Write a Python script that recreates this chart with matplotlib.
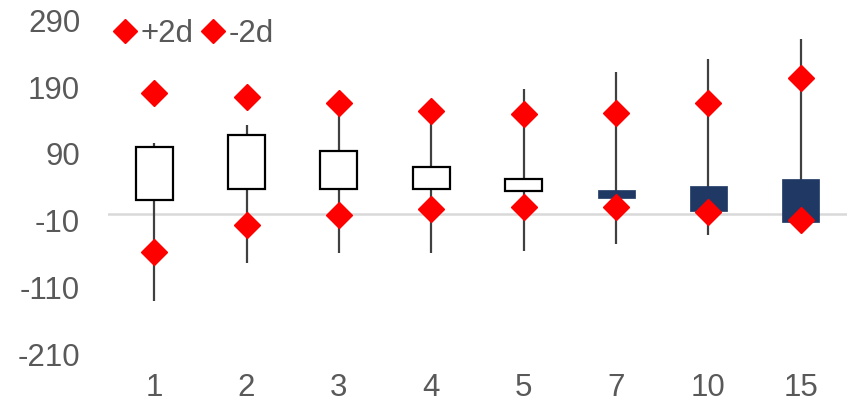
import matplotlib.pyplot as plt
import numpy as np
from matplotlib.lines import Line2D

plt.rcParams["font.family"] = ["Liberation Sans", "DejaVu Sans"]

# Data
categories = ["1", "2", "3", "4", "5", "7", "10", "15"]
open_vals = [21.5, 37, 38, 37, 35, 36.5, 42.6, 53]
high_vals = [106, 134, 166, 155, 188, 213, 232, 262]
low_vals = [-130, -73, -58, -58, -55, -45, -31, -12]
close_vals = [101, 118, 95, 71, 53, 24.5, 5, -11.6]
plus_2d = [181, 176, 166, 155, 150, 151, 167, 203.5]
minus_2d = [-57, -16, -1, 8, 11, 11, 3.5, -8.7]
y_ticks = [290, 190, 90, -10, -110, -210]

text_color = "#595959"
down_color = "#1F3864"
wick_color = "#404040"
fs = 22.5

fig = plt.figure(figsize=(8.53, 4.07), dpi=100)
ax = fig.add_axes([108 / 853, 1 - 354 / 407, 739 / 853, 333.5 / 407])

x = np.arange(len(categories))
box_w = 0.4

# zero line
ax.axhline(0, color="#D9D9D9", lw=1.8, zorder=1)

for i in range(len(categories)):
    ax.vlines(x[i], low_vals[i], high_vals[i], color=wick_color, lw=1.6, zorder=2)
    lo = min(open_vals[i], close_vals[i])
    h = abs(close_vals[i] - open_vals[i])
    if close_vals[i] >= open_vals[i]:
        ax.bar(x[i], h, bottom=lo, width=box_w, facecolor="white",
               edgecolor="black", linewidth=1.6, zorder=3)
    else:
        ax.bar(x[i], h, bottom=lo, width=box_w, facecolor=down_color,
               edgecolor=down_color, linewidth=0.5, zorder=3)

ax.plot(x, plus_2d, ls="none", marker="D", ms=13, color="#FF0000", zorder=4)
ax.plot(x, minus_2d, ls="none", marker="D", ms=13, color="#FF0000", zorder=4)

ax.set_xlim(-0.5, len(categories) - 0.5)
ax.set_ylim(-210, 290)
ax.set_yticks(y_ticks)
ax.set_yticklabels([str(t) for t in y_ticks])
ax.set_xticks(x)
ax.set_xticklabels(categories)
ax.tick_params(axis="y", length=0, pad=20, labelsize=fs, labelcolor=text_color)
ax.tick_params(axis="x", length=0, pad=14, labelsize=fs, labelcolor=text_color)
for s in ax.spines.values():
    s.set_visible(False)

handles = [
    Line2D([], [], ls="none", marker="D", ms=12, color="#FF0000"),
    Line2D([], [], ls="none", marker="D", ms=12, color="#FF0000"),
]
leg = fig.legend(handles, ["+2d", "-2d"], loc="center left",
                 bbox_to_anchor=(113 / 853, 1 - 34 / 407), ncol=2, frameon=False,
                 handlelength=0.75, handletextpad=0.12, columnspacing=0.25,
                 borderaxespad=0, borderpad=0, fontsize=fs)
for t in leg.get_texts():
    t.set_color(text_color)

fig.savefig("out.png", dpi=100)
